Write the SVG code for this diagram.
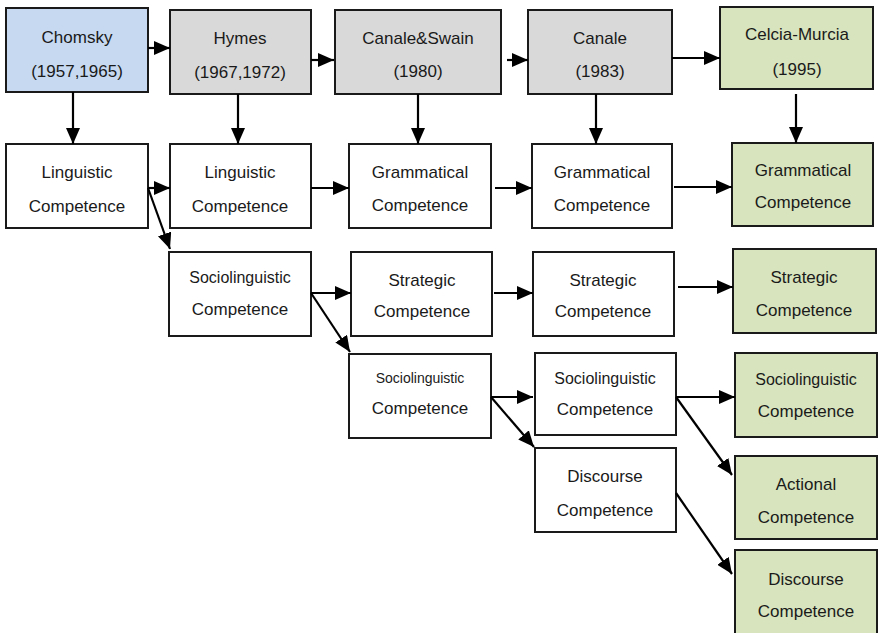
<svg xmlns="http://www.w3.org/2000/svg" width="882" height="633" viewBox="0 0 882 633">
  <defs>
    <marker id="arrow" markerUnits="userSpaceOnUse" markerWidth="16" markerHeight="14" refX="16" refY="7" orient="auto">
      <path d="M0,0 L16,7 L0,14 z" fill="#000"/>
    </marker>
    <style>
      .node rect { stroke: #1a1a1a; stroke-width: 2; }
      .blue { fill: #c6d9f1; }
      .gray { fill: #d9d9d9; }
      .white { fill: #ffffff; }
      .green { fill: #d7e4bd; }
      text { font-family: "Liberation Sans", Arial, sans-serif; font-size: 17px; fill: #1a1a1a; text-anchor: middle; }
      .small { font-size: 16px; }
      .tiny { font-size: 14px; }
      .conn line { stroke: #000; stroke-width: 2.2; marker-end: url(#arrow); }
    </style>
  </defs>
  <rect x="0" y="0" width="882" height="633" fill="#ffffff"/>

  <!-- top row: authors -->
  <g id="chomsky" class="node">
    <rect class="blue" x="6" y="8" width="142" height="84"/>
    <text x="77" y="43">Chomsky</text>
    <text x="77" y="77">(1957,1965)</text>
  </g>
  <g id="hymes" class="node">
    <rect class="gray" x="170" y="10" width="141" height="84"/>
    <text x="240" y="44">Hymes</text>
    <text x="240" y="78">(1967,1972)</text>
  </g>
  <g id="canale-swain" class="node">
    <rect class="gray" x="335" y="10" width="166" height="84"/>
    <text x="418" y="44">Canale&amp;Swain</text>
    <text x="418" y="77">(1980)</text>
  </g>
  <g id="canale" class="node">
    <rect class="gray" x="528" y="10" width="144" height="84"/>
    <text x="600" y="44">Canale</text>
    <text x="600" y="77">(1983)</text>
  </g>
  <g id="celcia-murcia" class="node">
    <rect class="green" x="720" y="7" width="153" height="82"/>
    <text x="797" y="40">Celcia-Murcia</text>
    <text x="797" y="75">(1995)</text>
  </g>

  <!-- row 2 -->
  <g id="ling-chomsky" class="node">
    <rect class="white" x="6" y="144" width="142" height="84"/>
    <text x="77" y="178">Linguistic</text>
    <text x="77" y="212">Competence</text>
  </g>
  <g id="ling-hymes" class="node">
    <rect class="white" x="170" y="144" width="141" height="84"/>
    <text x="240" y="178">Linguistic</text>
    <text x="240" y="212">Competence</text>
  </g>
  <g id="gram-cs" class="node">
    <rect class="white" x="349" y="144" width="142" height="84"/>
    <text x="420" y="178">Grammatical</text>
    <text x="420" y="211">Competence</text>
  </g>
  <g id="gram-canale" class="node">
    <rect class="white" x="532" y="144" width="140" height="84"/>
    <text x="602" y="178">Grammatical</text>
    <text x="602" y="211">Competence</text>
  </g>
  <g id="gram-cm" class="node">
    <rect class="green" x="732" y="143" width="141" height="83"/>
    <text x="803" y="176">Grammatical</text>
    <text x="803" y="208">Competence</text>
  </g>

  <!-- row 3 -->
  <g id="socio-hymes" class="node">
    <rect class="white" x="169" y="252" width="142" height="84"/>
    <text class="small" x="240" y="283">Sociolinguistic</text>
    <text x="240" y="315">Competence</text>
  </g>
  <g id="strat-cs" class="node">
    <rect class="white" x="351" y="252" width="141" height="84"/>
    <text x="422" y="286">Strategic</text>
    <text x="422" y="317">Competence</text>
  </g>
  <g id="strat-canale" class="node">
    <rect class="white" x="533" y="252" width="141" height="84"/>
    <text x="603" y="286">Strategic</text>
    <text x="603" y="317">Competence</text>
  </g>
  <g id="strat-cm" class="node">
    <rect class="green" x="733" y="249" width="143" height="84"/>
    <text x="804" y="283">Strategic</text>
    <text x="804" y="316">Competence</text>
  </g>

  <!-- row 4 -->
  <g id="socio-cs" class="node">
    <rect class="white" x="349" y="354" width="142" height="84"/>
    <text class="tiny" x="420" y="383">Sociolinguistic</text>
    <text x="420" y="414">Competence</text>
  </g>
  <g id="socio-canale" class="node">
    <rect class="white" x="535" y="353" width="141" height="82"/>
    <text class="small" x="605" y="384">Sociolinguistic</text>
    <text x="605" y="415">Competence</text>
  </g>
  <g id="socio-cm" class="node">
    <rect class="green" x="735" y="353" width="142" height="84"/>
    <text class="small" x="806" y="385">Sociolinguistic</text>
    <text x="806" y="417">Competence</text>
  </g>

  <!-- row 5 -->
  <g id="disc-canale" class="node">
    <rect class="white" x="535" y="448" width="141" height="84"/>
    <text x="605" y="482">Discourse</text>
    <text x="605" y="516">Competence</text>
  </g>
  <g id="actional-cm" class="node">
    <rect class="green" x="735" y="456" width="142" height="83"/>
    <text x="806" y="490">Actional</text>
    <text x="806" y="523">Competence</text>
  </g>
  <g id="disc-cm" class="node">
    <rect class="green" x="735" y="550" width="142" height="92"/>
    <text x="806" y="585">Discourse</text>
    <text x="806" y="617">Competence</text>
  </g>

  <!-- connectors -->
  <g class="conn" id="connectors">
    <line x1="148" y1="48" x2="170" y2="48"/>
    <line x1="311" y1="60" x2="334" y2="60"/>
    <line x1="507" y1="60" x2="528" y2="60"/>
    <line x1="672" y1="58" x2="720" y2="58"/>

    <line x1="73" y1="92" x2="73" y2="144"/>
    <line x1="238" y1="94" x2="238" y2="144"/>
    <line x1="418" y1="94" x2="418" y2="144"/>
    <line x1="596" y1="94" x2="596" y2="144"/>
    <line x1="796" y1="94" x2="796" y2="143"/>

    <line x1="148" y1="188" x2="170" y2="188"/>
    <line x1="148" y1="188" x2="170" y2="249"/>
    <line x1="311" y1="188" x2="349" y2="188"/>
    <line x1="495" y1="188" x2="532" y2="188"/>
    <line x1="674" y1="187" x2="732" y2="187"/>

    <line x1="311" y1="293" x2="351" y2="293"/>
    <line x1="311" y1="293" x2="350" y2="352"/>
    <line x1="494" y1="293" x2="533" y2="293"/>
    <line x1="678" y1="287" x2="733" y2="287"/>

    <line x1="491" y1="397" x2="533" y2="397"/>
    <line x1="491" y1="397" x2="534" y2="447"/>
    <line x1="676" y1="397" x2="735" y2="397"/>
    <line x1="676" y1="397" x2="732" y2="475"/>
    <line x1="676" y1="493" x2="732" y2="574"/>
  </g>
</svg>
